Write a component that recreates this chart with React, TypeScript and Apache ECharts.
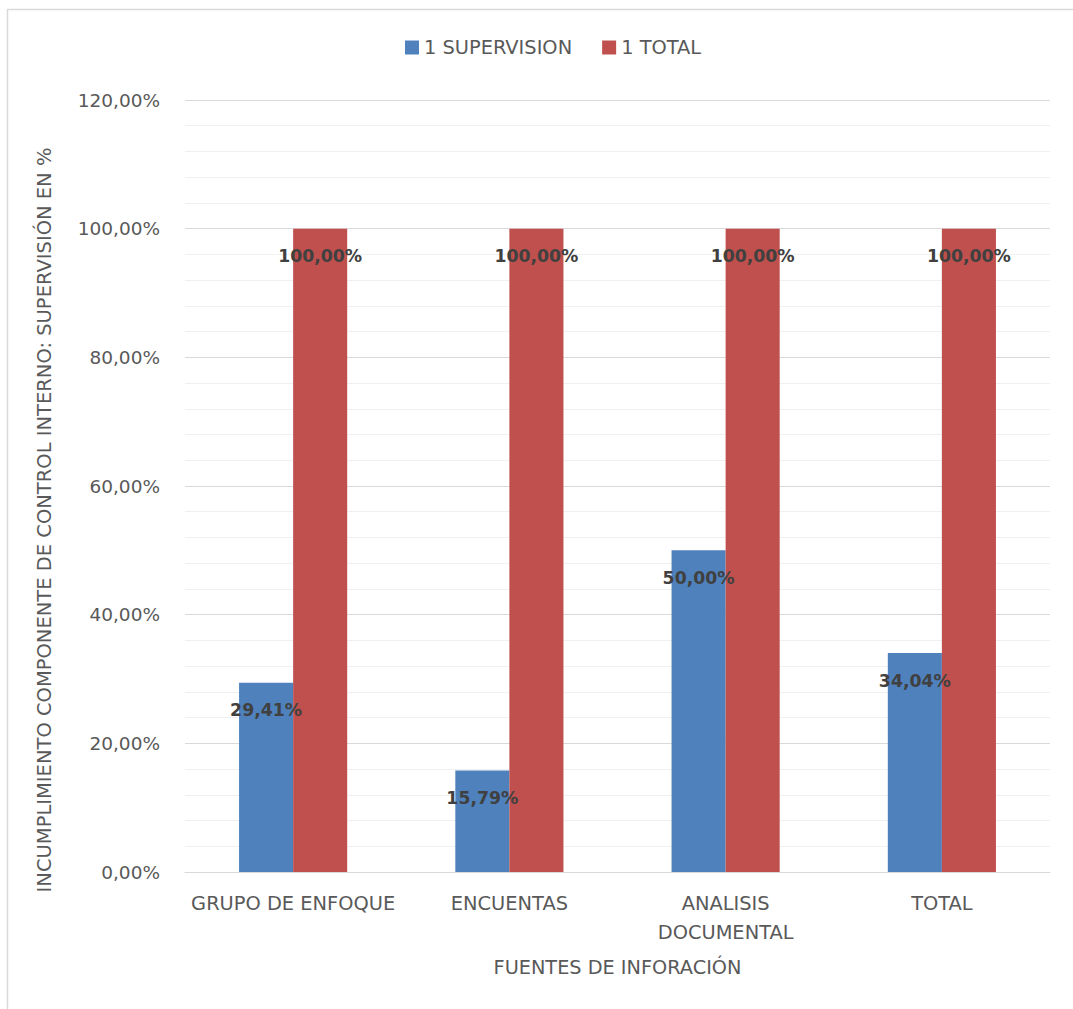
import React, { useEffect, useRef } from "react";
import * as echarts from "echarts";

const categories = ["GRUPO DE ENFOQUE", "ENCUENTAS", "ANALISIS DOCUMENTAL", "TOTAL"];
const supervisionValues = [29.41, 15.79, 50.0, 34.04];
const totalValues = [100, 100, 100, 100];
const seriesNames = ["1 SUPERVISION", "1 TOTAL"];
const xAxisTitle = "FUENTES DE INFORACIÓN";
const yAxisTitle = "INCUMPLIMIENTO COMPONENTE DE CONTROL INTERNO: SUPERVISIÓN EN %";

const FONT = "DejaVu Sans";
const fmt = (v: number) => v.toFixed(2).replace(".", ",") + "%";

export default function App() {
  const ref = useRef<HTMLDivElement>(null);
  useEffect(() => {
    if (!ref.current) return;
    const chart = echarts.init(ref.current, undefined, { renderer: "svg" });
    const labelStyle = {
      show: true,
      position: "insideTop" as const,
      distance: 19,
      formatter: (p: any) => fmt(p.value),
      color: "#404040",
      fontFamily: FONT,
      fontWeight: "bold" as const,
      fontSize: 17.3,
    };
    chart.setOption({
      animation: false,
      backgroundColor: "#ffffff",
      textStyle: { fontFamily: FONT },
      legend: {
        left: 400,
        top: 33,
        itemWidth: 14,
        itemHeight: 14,
        itemGap: 30,
        icon: "rect",
        textStyle: { color: "#595959", fontSize: 19.4, fontFamily: FONT },
        data: seriesNames,
      },
      grid: { left: 185, right: 23, top: 100, bottom: 137 },
      xAxis: {
        type: "category",
        data: categories,
        axisLine: { show: true, lineStyle: { color: "#d9d9d9", width: 1 } },
        axisTick: { show: false },
        axisLabel: {
          interval: 0,
          margin: 17,
          color: "#595959",
          fontSize: 19.4,
          fontFamily: FONT,
          lineHeight: 29,
          formatter: (v: string) => (v === "ANALISIS DOCUMENTAL" ? "ANALISIS\nDOCUMENTAL" : v),
        },
        name: xAxisTitle,
        nameLocation: "middle",
        nameGap: 86,
        nameTextStyle: { color: "#595959", fontSize: 19.3, fontFamily: FONT },
      },
      yAxis: {
        type: "value",
        min: 0,
        max: 120,
        interval: 20,
        axisLine: { show: false },
        axisTick: { show: false },
        axisLabel: {
          margin: 25,
          color: "#595959",
          fontSize: 18.5,
          fontFamily: FONT,
          formatter: (v: number) => fmt(v),
        },
        splitLine: { show: true, lineStyle: { color: "#d9d9d9", width: 1 } },
        minorTick: { show: false, splitNumber: 5 },
        minorSplitLine: { show: true, lineStyle: { color: "#f0f0f0", width: 1 } },
      },
      series: [
        {
          name: seriesNames[0],
          type: "bar",
          data: supervisionValues,
          barGap: "0%",
          barCategoryGap: "50%",
          itemStyle: { color: "#4F81BD" },
          label: labelStyle,
        },
        {
          name: seriesNames[1],
          type: "bar",
          data: totalValues,
          barGap: "0%",
          barCategoryGap: "50%",
          itemStyle: { color: "#C0504D" },
          label: labelStyle,
        },
      ],
      graphic: [
        {
          type: "line",
          shape: { x1: 7, y1: 9.5, x2: 1073, y2: 9.5 },
          style: { stroke: "#d9d9d9", lineWidth: 1.5 },
          silent: true,
        },
        {
          type: "line",
          shape: { x1: 7.5, y1: 9, x2: 7.5, y2: 1009 },
          style: { stroke: "#d9d9d9", lineWidth: 1.5 },
          silent: true,
        },
        {
          type: "text",
          x: 44,
          y: 520,
          rotation: Math.PI / 2,
          style: {
            text: yAxisTitle,
            fill: "#595959",
            fontSize: 19.5,
            fontFamily: FONT,
            align: "center",
            verticalAlign: "middle",
          },
          silent: true,
        },
      ],
    });
    return () => chart.dispose();
  }, []);
  return (
    <div
      ref={ref}
      style={{ position: "absolute", left: 0, top: 0, width: 1073, height: 1009, background: "#fff" }}
    />
  );
}
